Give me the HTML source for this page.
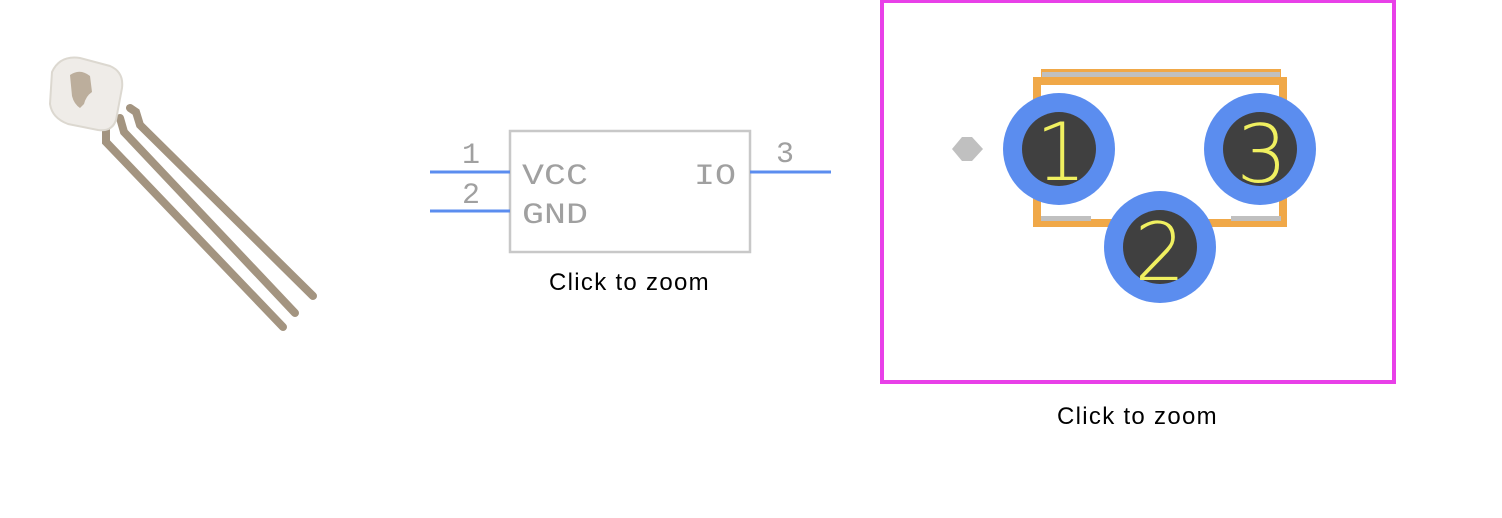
<!DOCTYPE html>
<html><head><style>
body{margin:0;width:1502px;height:518px;background:#fff;overflow:hidden;position:relative;font-family:"Liberation Sans",sans-serif}
.t{position:absolute;font-size:24px;letter-spacing:1.3px;color:#000}
</style></head><body>
<svg width="1502" height="518" style="position:absolute;left:0;top:0">
<!-- component photo -->
<g stroke-linecap="round">
<path d="M106,128 L106,142 L283,327" fill="none" stroke="#a39480" stroke-width="8"/>
<path d="M120,118 L124,132 L295,313" fill="none" stroke="#a39480" stroke-width="8"/>
<path d="M130,108 L136,112 L140,125 L313,296" fill="none" stroke="#a39480" stroke-width="8"/>
</g>
<path d="M52,72 Q60,55 80,58 L110,66 Q124,72 122,88 L116,120 Q112,132 98,130 L68,124 Q52,118 50,104 Z" fill="#efece8" stroke="#dcd8d0" stroke-width="2"/>
<path d="M70,75 Q80,68 90,76 L92,92 Q86,96 84,104 L80,108 Q74,104 72,96 Z" fill="#bcae9c"/>
<!-- schematic -->
<rect x="510" y="131" width="240" height="121" fill="none" stroke="#c8c8c8" stroke-width="2.5"/>
<line x1="430" y1="172" x2="510" y2="172" stroke="#5b8def" stroke-width="3"/>
<line x1="430" y1="211" x2="510" y2="211" stroke="#5b8def" stroke-width="3"/>
<line x1="750" y1="172" x2="831" y2="172" stroke="#5b8def" stroke-width="3"/>
<g font-family="Liberation Mono,monospace" font-size="30" fill="#a0a0a0">
<text x="462" y="163">1</text><text x="462" y="203">2</text><text x="776" y="162">3</text>
<text x="522" y="184" textLength="66" lengthAdjust="spacingAndGlyphs">VCC</text>
<text x="522" y="223" textLength="66" lengthAdjust="spacingAndGlyphs">GND</text>
<text x="694" y="184" textLength="42" lengthAdjust="spacingAndGlyphs">IO</text>
</g>
<!-- footprint -->
<rect x="882" y="1" width="512" height="381" fill="none" stroke="#e840e8" stroke-width="4"/>
<rect x="1037" y="81" width="246" height="142" fill="none" stroke="#f0a848" stroke-width="8"/>
<rect x="1041" y="69" width="240" height="9" fill="#f0a848"/>
<rect x="1042" y="72" width="238" height="5" fill="#c0c0c0"/>
<rect x="1041" y="216" width="50" height="5" fill="#c0c0c0"/>
<rect x="1231" y="216" width="50" height="5" fill="#c0c0c0"/>
<path d="M962,137 L972,137 L983,149 L972,161 L962,161 L952,149 Z" fill="#c0c0c0"/>
<g>
<circle cx="1059" cy="149" r="56" fill="#5b8def"/><circle cx="1059" cy="149" r="37" fill="#404040"/>
<circle cx="1260" cy="149" r="56" fill="#5b8def"/><circle cx="1260" cy="149" r="37" fill="#404040"/>
<circle cx="1160" cy="247" r="56" fill="#5b8def"/><circle cx="1160" cy="247" r="37" fill="#404040"/>
</g>
<g font-family="DejaVu Sans,sans-serif" font-size="80" font-weight="200" fill="#f0f060" text-anchor="middle">
<text x="1061" y="180">1</text><text x="1262" y="182">3</text><text x="1160" y="280">2</text>
</g>
</svg>
<div class="t" style="left:549px;top:269px">Click to zoom</div>
<div class="t" style="left:1057px;top:403px">Click to zoom</div>
</body></html>
